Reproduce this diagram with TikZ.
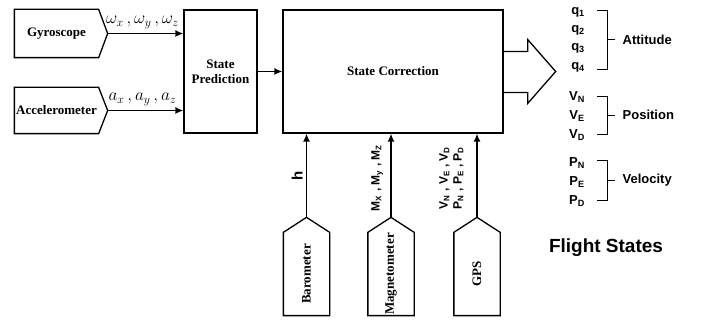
\documentclass[tikz,border=0pt]{standalone}
\usepackage{fontspec}
\setmainfont{Liberation Serif}
\setsansfont{Liberation Sans}
\usetikzlibrary{calc,positioning,arrows.meta}
\begin{document}
\begin{tikzpicture}[x=1pt, y=-1pt, line width=1.3pt,
    blok/.style={draw, rectangle, font=\fontsize{13}{15}\selectfont\bfseries, align=center},
    senzor/.style={rectangle, inner sep=0pt, font=\fontsize{13}{15}\selectfont\bfseries},
    oznaka/.style={font=\sffamily\bfseries\fontsize{12}{14}\selectfont, align=center},
    stanje/.style={font=\sffamily\bfseries\fontsize{13}{15}\selectfont},
    zagrada/.style={line width=0.9pt},
    strelica/.style={-{Latex[length=8pt,width=7pt]}}]
    \useasboundingbox (0,0) rectangle (704,320);
    % glavni blokovi
    \node [blok, minimum width=73, minimum height=123] (pred) at (220.5,71.5) {State\\Prediction};
    \node [blok, minimum width=220, minimum height=123] (corr) at (393,71.5) {State Correction};
    \draw [strelica] (pred) -- (corr);
    % senzori lijevo
    \node [senzor, minimum width=83, minimum height=47] (gyro) at (56.5,33.5) {Gyroscope};
    \node [senzor, minimum width=83, minimum height=45] (acc) at (56.5,110.5) {Accelerometer};
    \foreach \s in {gyro,acc}{
        \draw (\s.north west) -- (\s.north east) -- ($(\s.east)+(9,0)$) coordinate (vrh-\s)
            -- (\s.south east) -- (\s.south west) -- cycle;
    }
    \draw [strelica] (vrh-gyro) -- (vrh-gyro -| pred.west)
        node[midway, above=1pt, xshift=-3pt, font=\fontsize{17}{20}\selectfont] {$\omega_x\,,\omega_y\,,\omega_z$};
    \draw [strelica] (vrh-acc) -- (vrh-acc -| pred.west)
        node[midway, above=1pt, xshift=-3pt, font=\fontsize{17}{20}\selectfont] {$a_x\,,a_y\,,a_z$};
    % senzori dolje
    \foreach \s/\x/\t in {baro/306.5/Barometer, mag/391/Magnetometer, gps/477/GPS}{
        \node [senzor, rotate=90, minimum width=82, minimum height=45] (\s) at (\x,274) {\t};
        \draw (\s.south west) -- (\s.north west) -- (\s.north east) -- ($(\s.east)+(0,-15)$) coordinate (vrh-\s)
            -- (\s.south east) -- cycle;
    }
    % oznake na ulazima (pomaci u zakrenutom sustavu)
    \draw [strelica] (vrh-baro) -- (vrh-baro |- corr.south)
        node[midway, anchor=south, rotate=90, font=\sffamily\bfseries\fontsize{15}{17}\selectfont] {h};
    \draw [strelica] (vrh-mag) -- (vrh-mag |- corr.south)
        node[midway, anchor=south, rotate=90, xshift=-2.5pt, yshift=4pt, oznaka] {M\textsubscript{X} , M\textsubscript{y} , M\textsubscript{Z}};
    \draw [strelica] (vrh-gps) -- (vrh-gps |- corr.south)
        node[midway, anchor=south, rotate=90, xshift=-2.5pt, yshift=9.5pt, oznaka] {V\textsubscript{N} , V\textsubscript{E} , V\textsubscript{D}\\P\textsubscript{N} , P\textsubscript{E} , P\textsubscript{D}};
    % izlaz
    \draw ($(corr.east)+(0,-20)$) -- ++(24,0) -- ++(0,-12) -- ($(corr.east)+(52,0)$) coordinate (izlaz)
        -- ($(corr.east)+(24,32)$) -- ++(0,-11) -- ($(corr.east)+(0,21)$);
    % stanja leta
    \foreach \i/\y in {1/12,2/30,3/48.5,4/67}{
        \node [stanje] (q\i) at (578,\y) {q\textsubscript{\i}};
    }
    \foreach \i/\y in {N/97,E/116,D/135}{
        \node [stanje] (v\i) at (577,\y) {V\textsubscript{\i}};
    }
    \foreach \i/\y in {N/163,E/182,D/201}{
        \node [stanje] (p\i) at (577,\y) {P\textsubscript{\i}};
    }
    \foreach \a/\b/\t/\l in {10/69/att/Attitude, 96/134/pos/Position, 160/200/vel/Velocity}{
        \draw [zagrada] (597,\a) -| (607,\b) -- (597,\b);
        \draw [zagrada] (607,{(\a+\b)/2}) -- ++(8,0) coordinate (c-\t);
        \node [stanje, anchor=west, inner sep=0pt, xshift=7pt] (lab-\t) at (c-\t) {\l};
    }
    \node [font=\sffamily\bfseries\fontsize{19}{22}\selectfont] (flight) at (606,248) {Flight States};
\end{tikzpicture}
\end{document}
